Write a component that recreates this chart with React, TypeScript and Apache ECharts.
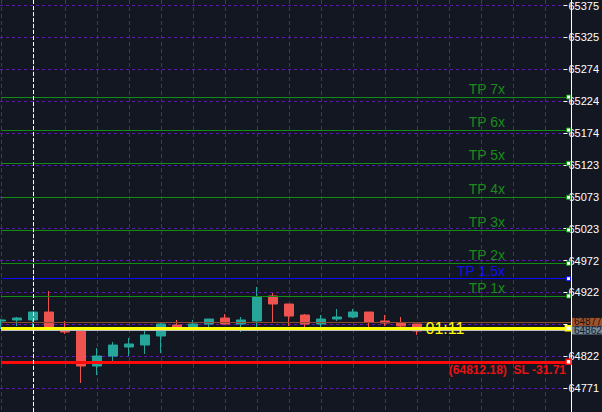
import React, { useEffect, useRef } from 'react';
import * as echarts from 'echarts';

// ---- axis tick labels (price scale, bottom to top) ----
const TICK_LABELS = ['64771', '64822', '64872', '64922', '64972', '65023', '65073', '65123', '65174', '65224', '65274', '65325', '65375'];
// tick label hidden under the bid/ask tags
const COVERED_TICK = '64872';

// ---- visible price / bar range ----
const Y_MIN = 64733.25;
const Y_MAX = 65381.29;
const X_MAX = 35.625;

// ---- candles (oldest to newest) ----
const OPEN = [64876.4, 64878.0, 64878.0, 64890.5, 64862.2, 64862.2, 64805.6, 64821.3, 64835.5, 64838.6, 64852.8, 64870.1, 64863.8, 64871.7, 64881.1, 64871.7, 64876.4, 64915.7, 64903.1, 64885.8, 64871.7, 64879.5, 64882.7, 64890.5, 64876.4, 64873.2, 64871.7];
const CLOSE = [64878.0, 64881.1, 64890.5, 64865.4, 64859.1, 64805.6, 64821.3, 64838.6, 64840.2, 64854.4, 64871.7, 64863.8, 64871.7, 64879.5, 64871.7, 64878.0, 64914.1, 64903.1, 64884.2, 64871.7, 64879.5, 64882.7, 64890.5, 64874.8, 64873.2, 64868.5, 64860.7];
const LOW = [64863.8, 64868.5, 64863.8, 64862.2, 64855.9, 64778.9, 64791.4, 64813.5, 64821.3, 64824.5, 64826.1, 64860.7, 64862.2, 64863.8, 64871.7, 64859.1, 64866.9, 64874.8, 64868.5, 64865.4, 64863.8, 64876.4, 64881.1, 64866.9, 64868.5, 64863.8, 64854.4];
const HIGH = [64879.5, 64882.7, 64891.0, 64923.6, 64876.4, 64866.9, 64833.9, 64843.4, 64849.6, 64860.7, 64874.8, 64878.0, 64878.0, 64879.5, 64887.4, 64882.7, 64929.9, 64920.4, 64903.1, 64887.4, 64885.8, 64895.3, 64895.3, 64890.5, 64885.8, 64882.7, 64871.7];

// ---- trade levels ----
const TP_NAMES = ['TP 1x', 'TP 1.5x', 'TP 2x', 'TP 3x', 'TP 4x', 'TP 5x', 'TP 6x', 'TP 7x'];
const TP_VALUES = [64915.7, 64942.9, 64967.1, 65019.5, 65071.0, 65124.4, 65176.8, 65228.7];
const ENTRY = 64865.0;
const SL = 64812.18;
const SL_MONEY = '-31.71';
const ASK = 64875.0;
const ASK_TEXT = '64877';
const BID = 64861.5;
const BID_TEXT = '64862';
const COUNTDOWN = '01:11';
const VLINE_INDEX = 2;
const COUNTDOWN_X = 26.25;
const MARK_X = 35.47;

const BG = '#131722';
const GRID_COLOR = '#5e18b0';
const GREEN = '#128c12';
const GREEN_TEXT = '#1c8a1c';
const BLUE = '#0a0aff';
const RED = '#ff0a0a';
const UP = '#26a69a';
const DOWN = '#ef5350';
const NARROW = "'Liberation Sans Narrow', 'Liberation Sans', Arial, sans-serif";
const SANS = "'Liberation Sans', Arial, sans-serif";

export default function App() {
  const ref = useRef<HTMLDivElement>(null);

  useEffect(() => {
    if (!ref.current) return;
    const chart = echarts.init(ref.current, null, { renderer: 'svg' });

    const candleData = OPEN.map((o, i) => [i, o, CLOSE[i], LOW[i], HIGH[i]]);

    const tpLines = TP_VALUES.map((v, i) => {
      const isBlue = TP_NAMES[i] === 'TP 1.5x';
      return {
        yAxis: v,
        lineStyle: { color: isBlue ? BLUE : GREEN, width: 1, type: 'solid' },
        label: {
          show: true,
          position: 'insideEndTop',
          distance: [66, 1],
          formatter: TP_NAMES[i],
          color: isBlue ? '#1010e8' : GREEN_TEXT,
          fontSize: 14,
          fontFamily: SANS,
        },
      };
    });

    const tag = (text: string, bg: string, fg: string) => ({
      show: true, position: 'end', distance: 1, formatter: text,
      backgroundColor: bg, color: fg, fontSize: 10, fontFamily: NARROW,
      padding: [0, 2, 0, 2], lineHeight: 8,
    });

    const markLines: any[] = [
      ...tpLines,
      {
        yAxis: ASK,
        lineStyle: { color: '#8b4a2b', width: 1, type: 'solid' },
        label: tag(ASK_TEXT, '#a0522d', '#1e1410'),
      },
      {
        yAxis: BID,
        lineStyle: { color: '#b8bcc8', width: 1, type: 'solid' },
        label: tag(BID_TEXT, '#778899', '#141a28'),
      },
      {
        yAxis: ENTRY,
        lineStyle: { color: '#ffff00', width: 3, type: 'solid' },
        label: { show: false },
      },
      {
        yAxis: SL,
        lineStyle: { color: RED, width: 3, type: 'solid' },
        label: {
          show: true, position: 'insideEndBottom', distance: [5, 2],
          formatter: `(${SL.toFixed(2)})  SL ${SL_MONEY}`,
          color: '#e81212', fontSize: 12, fontWeight: 'bold', fontFamily: SANS,
        },
      },
      {
        xAxis: VLINE_INDEX,
        lineStyle: { color: '#ffffff', width: 1, type: [4, 2] },
        label: { show: false },
      },
    ];

    const sq = (v: number, border: string, size: any, bw = 1) => ({
      coord: [MARK_X, v],
      symbol: 'rect',
      symbolSize: size,
      itemStyle: { color: '#ffffff', borderColor: border, borderWidth: bw },
      label: { show: false },
    });

    const markPoints: any[] = [
      ...TP_VALUES.map((v, i) => sq(v, TP_NAMES[i] === 'TP 1.5x' ? BLUE : GREEN, 4)),
      sq(SL, RED, 5, 1.5),
      sq(ENTRY, '#ffff00', [6, 5], 1.5),
      {
        coord: [COUNTDOWN_X, ENTRY],
        symbol: 'circle',
        symbolSize: 1,
        itemStyle: { color: 'rgba(0,0,0,0)' },
        label: {
          show: true, position: 'right', distance: 4, formatter: COUNTDOWN,
          color: '#ffff00', fontSize: 16, fontFamily: SANS,
        },
      },
    ];

    const option: any = {
      animation: false,
      backgroundColor: BG,
      grid: [
        { left: 1, right: 31, top: 0, bottom: 0, containLabel: false },
        { left: 0, right: 31, top: 4, bottom: 24, containLabel: false },
      ],
      xAxis: [
        {
          type: 'value', gridIndex: 0, min: 0, max: X_MAX, interval: 2,
          axisLine: { show: false }, axisTick: { show: false }, axisLabel: { show: false },
          splitLine: { show: true, lineStyle: { color: GRID_COLOR, width: 1, type: [4, 3] } },
        },
        { type: 'value', gridIndex: 1, show: false, min: 0, max: 1 },
      ],
      yAxis: [
        {
          type: 'value', gridIndex: 0, min: Y_MIN, max: Y_MAX, position: 'right', scale: true,
          axisLine: { show: true, onZero: false, lineStyle: { color: '#ffffff', width: 1 } },
          axisTick: { show: false }, axisLabel: { show: false }, splitLine: { show: false },
        },
        {
          type: 'category', gridIndex: 1, data: TICK_LABELS, boundaryGap: false, position: 'right',
          axisLine: { show: false, onZero: false },
          axisTick: { show: true, length: 4, interval: 0, alignWithLabel: true, lineStyle: { color: '#ffffff', width: 1 } },
          axisLabel: {
            show: true, interval: 0, margin: 5, color: '#ffffff', fontSize: 11, fontFamily: NARROW,
            formatter: (v: string) => (v === COVERED_TICK ? '' : v),
          },
          splitLine: { show: true, interval: 0, lineStyle: { color: GRID_COLOR, width: 1, type: [3, 3] } },
        },
      ],
      series: [
        {
          name: 'levels', type: 'line', xAxisIndex: 0, yAxisIndex: 0, data: [], z: 2, clip: false,
          silent: true, showSymbol: false,
          markLine: { silent: true, symbol: ['none', 'none'], precision: 2, data: markLines, animation: false },
        },
        {
          name: 'price', type: 'candlestick', xAxisIndex: 0, yAxisIndex: 0, z: 3, clip: false,
          barWidth: 10,
          encode: { x: 0, y: [1, 2, 3, 4] },
          data: candleData,
          itemStyle: { color: UP, color0: DOWN, borderColor: UP, borderColor0: DOWN, borderWidth: 1 },
        },
        {
          name: 'marks', type: 'line', xAxisIndex: 0, yAxisIndex: 0, data: [], z: 5, clip: false,
          silent: true, showSymbol: false,
          markPoint: { silent: true, data: markPoints, animation: false },
        },
      ],
    };

    chart.setOption(option);
    return () => chart.dispose();
  }, []);

  return (
    <div
      ref={ref}
      style={{ position: 'fixed', left: 0, top: 0, width: 602, height: 412, background: BG }}
    />
  );
}
